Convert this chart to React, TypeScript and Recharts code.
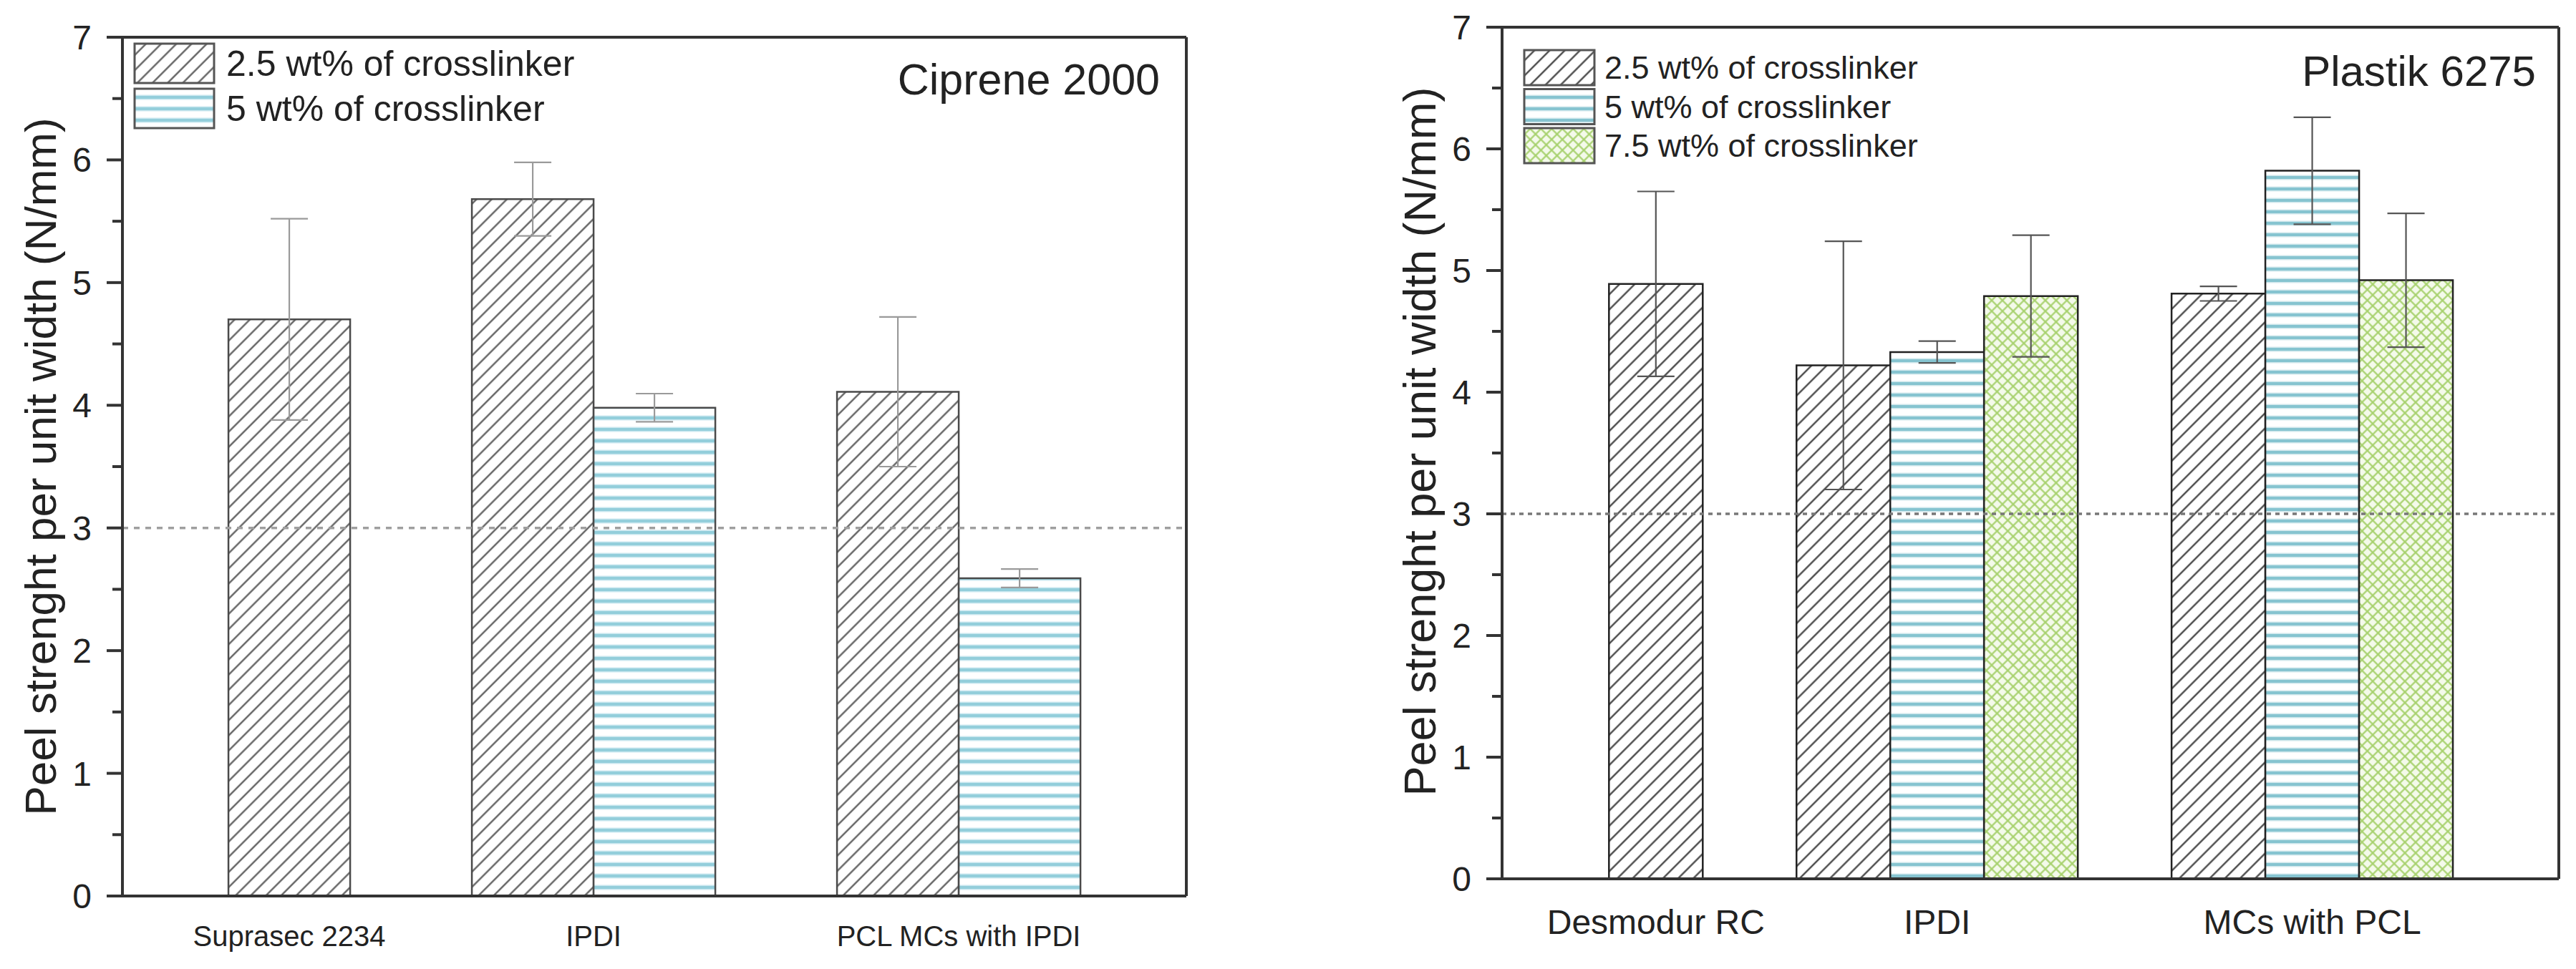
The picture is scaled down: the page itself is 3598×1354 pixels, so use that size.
import { BarChart, Bar, Cell, XAxis, YAxis, ErrorBar, ReferenceLine } from "recharts";

const FONT = '"Liberation Sans", Arial, Helvetica, sans-serif';

// Ciprene 2000 panel
const cipreneCategories = ["Suprasec 2234", "IPDI", "PCL MCs with IPDI"];
const ciprenePositions = [1.5, 4, 7];
const cipreneSeries = ["2.5 wt% of crosslinker", "5 wt% of crosslinker"];
const ciprene25 = [4.7, 5.68, 4.11];
const ciprene25Err = [0.82, 0.3, 0.61];
const ciprene5 = [null, 3.98, 2.59];
const ciprene5Err = [null, 0.115, 0.075];

// Plastik 6275 panel
const plastikCategories = ["Desmodur RC", "IPDI", "MCs with PCL"];
const plastikPositions = [2, 5, 9];
const plastikSeries = ["2.5 wt% of crosslinker", "5 wt% of crosslinker", "7.5 wt% of crosslinker"];
const plastik25 = [4.89, 4.22, 4.81];
const plastik25Err = [0.76, 1.02, 0.06];
const plastik5 = [null, 4.33, 5.82];
const plastik5Err = [null, 0.09, 0.44];
const plastik75 = [null, 4.79, 4.92];
const plastik75Err = [null, 0.5, 0.55];

const yTicks = [0, 0.5, 1, 1.5, 2, 2.5, 3, 3.5, 4, 4.5, 5, 5.5, 6, 6.5, 7];
const yMax = 7;
const threshold = 3;
const yTitle = "Peel strenght per unit width (N/mm)";

// one row per bar, bars of a group centred on the group position
function buildRows(positions: number[], values: (number | null)[][], errs: (number | null)[][]) {
  const rows: { x: number; value: number; err: number | null; s: number }[] = [];
  positions.forEach((pos, i) => {
    const present = values.map((_, s) => s).filter((s) => values[s][i] != null);
    present.forEach((s, j) => {
      rows.push({ x: pos + j - (present.length - 1) / 2, value: values[s][i] as number, err: errs[s][i], s });
    });
  });
  return rows;
}

const AXIS = "#333";

function Patterns({ id, hatch, stripe, stripeLight }: any) {
  return (
    <defs>
      <pattern id={`${id}-p0`} patternUnits="userSpaceOnUse" width="15" height="15" patternTransform="rotate(45)">
        <rect width="15" height="15" fill="#fff" />
        <line x1="7.5" y1="0" x2="7.5" y2="15" stroke={hatch} strokeWidth="2.2" />
      </pattern>
      <pattern id={`${id}-p1`} patternUnits="userSpaceOnUse" width="16" height="16">
        <rect width="16" height="16" fill="#fff" />
        <rect y="4.5" width="16" height="7" fill={stripeLight} />
        <rect y="6" width="16" height="4" fill={stripe} />
      </pattern>
      <pattern id={`${id}-p2`} patternUnits="userSpaceOnUse" width="10.6" height="10.6" patternTransform="rotate(45)">
        <rect width="10.6" height="10.6" fill="#f4faea" />
        <line x1="5.3" y1="0" x2="5.3" y2="10.6" stroke="#a6d16c" strokeWidth="2.2" />
        <line x1="0" y1="5.3" x2="10.6" y2="5.3" stroke="#a6d16c" strokeWidth="2.2" />
      </pattern>
    </defs>
  );
}

function YTick(props: any) {
  const { x, y, payload, fontSize } = props;
  const axisX = x + 22 + 21;
  const major = Number.isInteger(payload.value);
  return (
    <g>
      <line x1={axisX - (major ? 22 : 14)} x2={axisX} y1={y} y2={y} stroke={AXIS} strokeWidth={4} />
      {major && (
        <text x={x} y={y} dy="0.355em" textAnchor="end" fontSize={fontSize} fill="#222" fontFamily={FONT}>
          {payload.value}
        </text>
      )}
    </g>
  );
}

function Panel(p: any) {
  const rows = buildRows(p.positions, p.values, p.errs);
  const L = p.legend;
  return (
    <BarChart
      width={p.width}
      height={p.height}
      data={rows}
      margin={{ top: p.top, right: p.right, bottom: 0, left: 0 }}
      barCategoryGap={0}
      barGap={0}
    >
      <Patterns id={p.id} hatch={p.hatch} stripe={p.stripe} stripeLight={p.stripeLight} />
      <XAxis
        dataKey="x"
        type="number"
        domain={p.xDomain}
        ticks={p.positions}
        interval={0}
        allowDataOverflow
        tickFormatter={(v: number) => p.categories[p.positions.indexOf(v)]}
        tickLine={false}
        tickSize={0}
        tickMargin={p.xTickMargin}
        height={p.xAxisHeight}
        axisLine={{ stroke: AXIS, strokeWidth: 4 }}
        tick={{ fontSize: p.xFont, fill: "#222", fontFamily: FONT }}
      />
      <YAxis
        domain={[0, yMax]}
        ticks={yTicks}
        interval={0}
        allowDataOverflow
        width={p.yAxisWidth}
        tickSize={22}
        tickMargin={21}
        tickLine={false}
        tick={(tp: any) => <YTick {...tp} fontSize={48} />}
        axisLine={{ stroke: AXIS, strokeWidth: 4 }}
      />
      <Bar dataKey="value" isAnimationActive={false} stroke={p.barStroke} strokeWidth={2.5}>
        {rows.map((r, i) => (
          <Cell key={i} fill={`url(#${p.id}-p${r.s})`} />
        ))}
        <ErrorBar dataKey="err" width={26} stroke={p.errColor} strokeWidth={2.2} direction="y" />
      </Bar>
      <ReferenceLine y={threshold} stroke={p.refColor} strokeWidth={3.5} strokeDasharray={p.refDash} />
      {/* top and right frame lines */}
      <ReferenceLine y={yMax} stroke={AXIS} strokeWidth={4} />
      <ReferenceLine x={p.xDomain[1]} stroke={AXIS} strokeWidth={4} />
      <text
        x={p.yTitleX}
        y={p.yTitleY}
        transform={`rotate(-90 ${p.yTitleX} ${p.yTitleY})`}
        textAnchor="middle"
        fontSize={p.yTitleFont}
        fill="#222"
        fontFamily={FONT}
      >
        {yTitle}
      </text>
      <text x={p.titleX} y={p.titleY} textAnchor="end" fontSize={p.titleFont} fill="#222" fontFamily={FONT}>
        {p.title}
      </text>
      {p.seriesNames.map((name: string, s: number) => (
        <g key={name}>
          <rect
            x={L.x}
            y={L.y + s * L.step}
            width={L.w}
            height={L.h}
            fill={`url(#${p.id}-p${s})`}
            stroke="#555"
            strokeWidth={3}
          />
          <text
            x={L.x + L.w + L.gap}
            y={L.y + s * L.step + L.h / 2 + L.font * 0.355}
            fontSize={L.font}
            fill="#222"
            fontFamily={FONT}
          >
            {name}
          </text>
        </g>
      ))}
    </BarChart>
  );
}

export default function App() {
  return (
    <div style={{ position: "absolute", left: 0, top: 0, width: 3598, height: 1354, background: "#fff" }}>
      <div style={{ position: "absolute", left: 0, top: 0 }}>
        <Panel
          id="cip"
          width={1790}
          height={1354}
          top={52}
          right={133}
          yAxisWidth={171}
          xAxisHeight={102}
          xDomain={[0.129, 8.87]}
          xTickMargin={42}
          xFont={40}
          categories={cipreneCategories}
          positions={ciprenePositions}
          seriesNames={cipreneSeries}
          values={[ciprene25, ciprene5]}
          errs={[ciprene25Err, ciprene5Err]}
          hatch="#555"
          stripe="#93cedb"
          stripeLight="#c9e7ef"
          barStroke="#4a4a4a"
          errColor="#9a9a9a"
          refColor="#9f9f9f"
          refDash="8 8"
          yTitleX={78}
          yTitleY={652}
          yTitleFont={62}
          title="Ciprene 2000"
          titleX={1620}
          titleY={132}
          titleFont={61}
          legend={{ x: 188, y: 61, w: 111, h: 55, step: 63, gap: 17, font: 50 }}
        />
      </div>
      <div style={{ position: "absolute", left: 1800, top: 0 }}>
        <Panel
          id="pla"
          width={1798}
          height={1354}
          top={38}
          right={24}
          yAxisWidth={298}
          xAxisHeight={126}
          xDomain={[0.36, 11.63]}
          xTickMargin={43}
          xFont={48}
          categories={plastikCategories}
          positions={plastikPositions}
          seriesNames={plastikSeries}
          values={[plastik25, plastik5, plastik75]}
          errs={[plastik25Err, plastik5Err, plastik75Err]}
          hatch="#3a3a3a"
          stripe="#86c4d0"
          stripeLight="#cfe7ec"
          barStroke="#222"
          errColor="#555"
          refColor="#777"
          refDash="6 6"
          yTitleX={205}
          yTitleY={617}
          yTitleFont={63}
          title="Plastik 6275"
          titleX={1742}
          titleY={120}
          titleFont={60}
          legend={{ x: 329, y: 70, w: 98, h: 49, step: 54.5, gap: 14, font: 45 }}
        />
      </div>
    </div>
  );
}
